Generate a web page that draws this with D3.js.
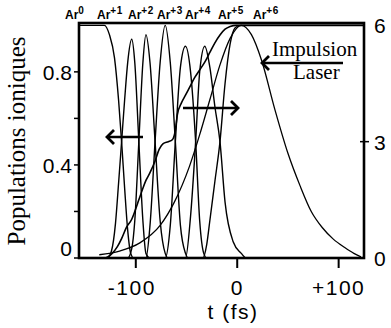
<!DOCTYPE html>
<html lang="fr">
<head>
<meta charset="UTF-8">
<title>Populations ioniques</title>
<script src="https://d3js.org/d3.v7.min.js"></script>
<style>
  body { margin: 0; background: #fff; }
  svg { display: block; }
  .num { font-family: "Liberation Sans", Arial, Helvetica, sans-serif; font-size: 21px; fill: #000; }
  .serif { font-family: "Liberation Serif", "Times New Roman", serif; fill: #000; }
  .ion { font-family: "Liberation Sans", Arial, sans-serif; font-weight: bold; font-size: 12px; fill: #000; }
</style>
</head>
<body>
<div id="chart"></div>
<script>
// populations (left axis, 0..1) vs t in fs
const ar0 = [[-156,1],[-131,1],[-126,0.96],[-121,0.86],[-117,0.68],[-114,0.5],[-111,0.3],[-108,0.12],[-105,0.02],[-102,0],[125,0]];
const ar1 = [[-156,0],[-128,0],[-124,0.03],[-120,0.15],[-117,0.32],[-114,0.5],[-111,0.68],[-108,0.84],[-104,0.94],[-101,0.84],[-97,0.5],[-93,0.16],[-90,0.02],[-86,0],[125,0]];
const ar2 = [[-156,0],[-108,0],[-104,0.04],[-101,0.16],[-97,0.5],[-93,0.84],[-90,0.96],[-86,0.84],[-81,0.5],[-76,0.16],[-71,0.02],[-68,0],[125,0]];
const ar3 = [[-156,0],[-90,0],[-86,0.14],[-81,0.5],[-76,0.84],[-71,1.0],[-66,0.84],[-61,0.5],[-56,0.14],[-51,0.02],[-48,0],[125,0]];
const ar4 = [[-156,0],[-71,0],[-66,0.14],[-61,0.5],[-56,0.82],[-51,0.91],[-46,0.8],[-41,0.5],[-37,0.16],[-33,0.02],[-30,0],[125,0]];
const ar5 = [[-156,0],[-51,0],[-46,0.18],[-41,0.5],[-37,0.8],[-32,0.91],[-27,0.82],[-22,0.65],[-17,0.5],[-12,0.24],[-4,0.07],[4,0.02],[9,0],[125,0]];
const ar6 = [[-156,0],[-34,0],[-30,0.06],[-27,0.16],[-22,0.33],[-17,0.5],[-12,0.75],[-7,0.92],[-2,0.99],[3,1.0],[125,1.0]];
const populations = [ar0, ar1, ar2, ar3, ar4, ar5, ar6];

// mean charge (right axis, 0..6)
const meanCharge = [[-156,0],[-131,0],[-124,0.1],[-118,0.3],[-114,0.5],[-109,0.8],[-104,1.0],[-101,1.2],[-97,1.5],[-93,1.8],[-90,2.0],[-86,2.2],[-81,2.5],[-77,2.8],[-73,2.95],[-68,3.0],[-64,3.05],[-61,3.3],[-59,3.7],[-55,4.0],[-51,4.2],[-47,4.4],[-42,4.65],[-37,4.85],[-32,5.05],[-27,5.3],[-22,5.55],[-17,5.75],[-12,5.9],[-7,5.97],[-1,6],[125,6]];

// laser pulse envelope (normalised)
const laser = [[-136,0.014],[-116,0.03],[-96,0.065],[-76,0.14],[-62,0.24],[-47,0.395],[-37,0.53],[-27,0.68],[-17,0.83],[-7,0.944],[4,1.0],[14,0.96],[24,0.85],[37,0.64],[50,0.45],[62,0.31],[73,0.2],[84,0.13],[95,0.08],[106,0.045],[115,0.02],[122,0.005]];

const ionBase = ["Ar","Ar","Ar","Ar","Ar","Ar","Ar"];
const ionSup = ["0","+1","+2","+3","+4","+5","+6"];
const xTicks = [-100, 0, 100];
const xTickLabels = ["-100", "0", "+100"];
const leftTicks = [0, 0.2, 0.4, 0.6, 0.8];
const leftLabels = [[0, "0"], [0.4, "0.4"], [0.8, "0.8"]];
const rightLabels = [[0, "0"], [3, "3"], [6, "6"]];

const width = 391, height = 328;
const L = 79, R = 364, T = 23, B = 258;

const svg = d3.select("#chart").append("svg").attr("width", width).attr("height", height);

const x = d3.scaleLinear().domain([-156, 125]).range([L, R]);
const yL = d3.scaleLinear().domain([0, 1.01]).range([B, T]);
const yR = d3.scaleLinear().domain([0, 6.06]).range([B, T]);

const lineL = d3.line().x(d => x(d[0])).y(d => yL(d[1])).curve(d3.curveMonotoneX);
const lineR = d3.line().x(d => x(d[0])).y(d => yR(d[1])).curve(d3.curveMonotoneX);

const plot = svg.append("g");
plot.selectAll(".pop")
  .data(populations)
  .enter()
  .append("path")
  .attr("class", "pop")
  .attr("d", lineL)
  .attr("fill", "none")
  .attr("stroke", "#000")
  .attr("stroke-width", 1.4);

plot.append("path").attr("d", lineR(meanCharge))
  .attr("fill", "none").attr("stroke", "#000").attr("stroke-width", 1.6);
plot.append("path").attr("d", lineL(laser))
  .attr("fill", "none").attr("stroke", "#000").attr("stroke-width", 1.3);

// frame
svg.append("rect").attr("x", L).attr("y", T).attr("width", R - L).attr("height", B - T)
  .attr("fill", "none").attr("stroke", "#000").attr("stroke-width", 2.6);

// left ticks
svg.selectAll(".lt").data(leftTicks).enter().append("line")
  .attr("x1", L - 5).attr("x2", L).attr("y1", d => yL(d)).attr("y2", d => yL(d))
  .attr("stroke", "#000").attr("stroke-width", 1.5);
svg.selectAll(".ll").data(leftLabels).enter().append("text")
  .attr("class", "num").attr("font-size", 22).attr("text-anchor", "end")
  .attr("x", 72).attr("y", d => yL(d[0]) + (d[0] === 0 ? -2 : 8))
  .text(d => d[1]);

// right axis
svg.append("line").attr("x1", R - 4).attr("x2", R + 5).attr("y1", yR(3)).attr("y2", yR(3))
  .attr("stroke", "#000").attr("stroke-width", 1.5);
svg.selectAll(".rl").data(rightLabels).enter().append("text")
  .attr("class", "num").attr("font-size", 22).attr("x", 374).attr("y", d => yR(d[0]) + 8)
  .text(d => d[1]);

// bottom axis
svg.selectAll(".bt").data(xTicks).enter().append("line")
  .attr("x1", d => x(d)).attr("x2", d => x(d)).attr("y1", B).attr("y2", B + 10)
  .attr("stroke", "#000").attr("stroke-width", 2);
svg.selectAll(".bl").data(xTicks).enter().append("text")
  .attr("class", "num").attr("text-anchor", "middle").attr("letter-spacing", 1.5)
  .attr("x", (d, i) => x(d) + (i === 0 ? -4 : 0)).attr("y", 295)
  .text((d, i) => xTickLabels[i]);
svg.append("text").attr("class", "num").attr("text-anchor", "middle").attr("letter-spacing", 1.5)
  .attr("x", 233).attr("y", 318.5).text("t (fs)");

// y title
svg.append("text").attr("class", "serif").attr("font-size", 25)
  .attr("text-anchor", "middle")
  .attr("transform", "translate(25,141) rotate(-90)")
  .text("Populations ioniques");

// ion labels on top
const ionX = [65, 97, 128, 157, 185, 218, 253];
const ion = svg.selectAll(".ion").data(ionBase).enter().append("text")
  .attr("class", "ion").attr("x", (d, i) => ionX[i]).attr("y", 19);
ion.append("tspan").text(d => d);
ion.append("tspan").attr("font-size", 10).attr("dy", -5).attr("letter-spacing", 0.5)
  .text((d, i) => ionSup[i]);

// arrows
function arrow(x1, x2, y, headLeft) {
  svg.append("line").attr("x1", x1).attr("x2", x2).attr("y1", y).attr("y2", y)
    .attr("stroke", "#000").attr("stroke-width", 2.6);
  const hx = headLeft ? x1 : x2, s = headLeft ? 1 : -1;
  svg.append("path")
    .attr("d", `M${hx + s * 7},${y - 7}L${hx},${y}L${hx + s * 7},${y + 7}`)
    .attr("fill", "none").attr("stroke", "#000").attr("stroke-width", 2.8);
}
arrow(107, 143, 137, true);
arrow(183, 238, 108, false);
arrow(262, 343, 63, true);

svg.append("text").attr("class", "serif").attr("font-size", 21).attr("x", 272).attr("y", 56).text("Impulsion");
svg.append("text").attr("class", "serif").attr("font-size", 21).attr("x", 293).attr("y", 79).text("Laser");
</script>
</body>
</html>
